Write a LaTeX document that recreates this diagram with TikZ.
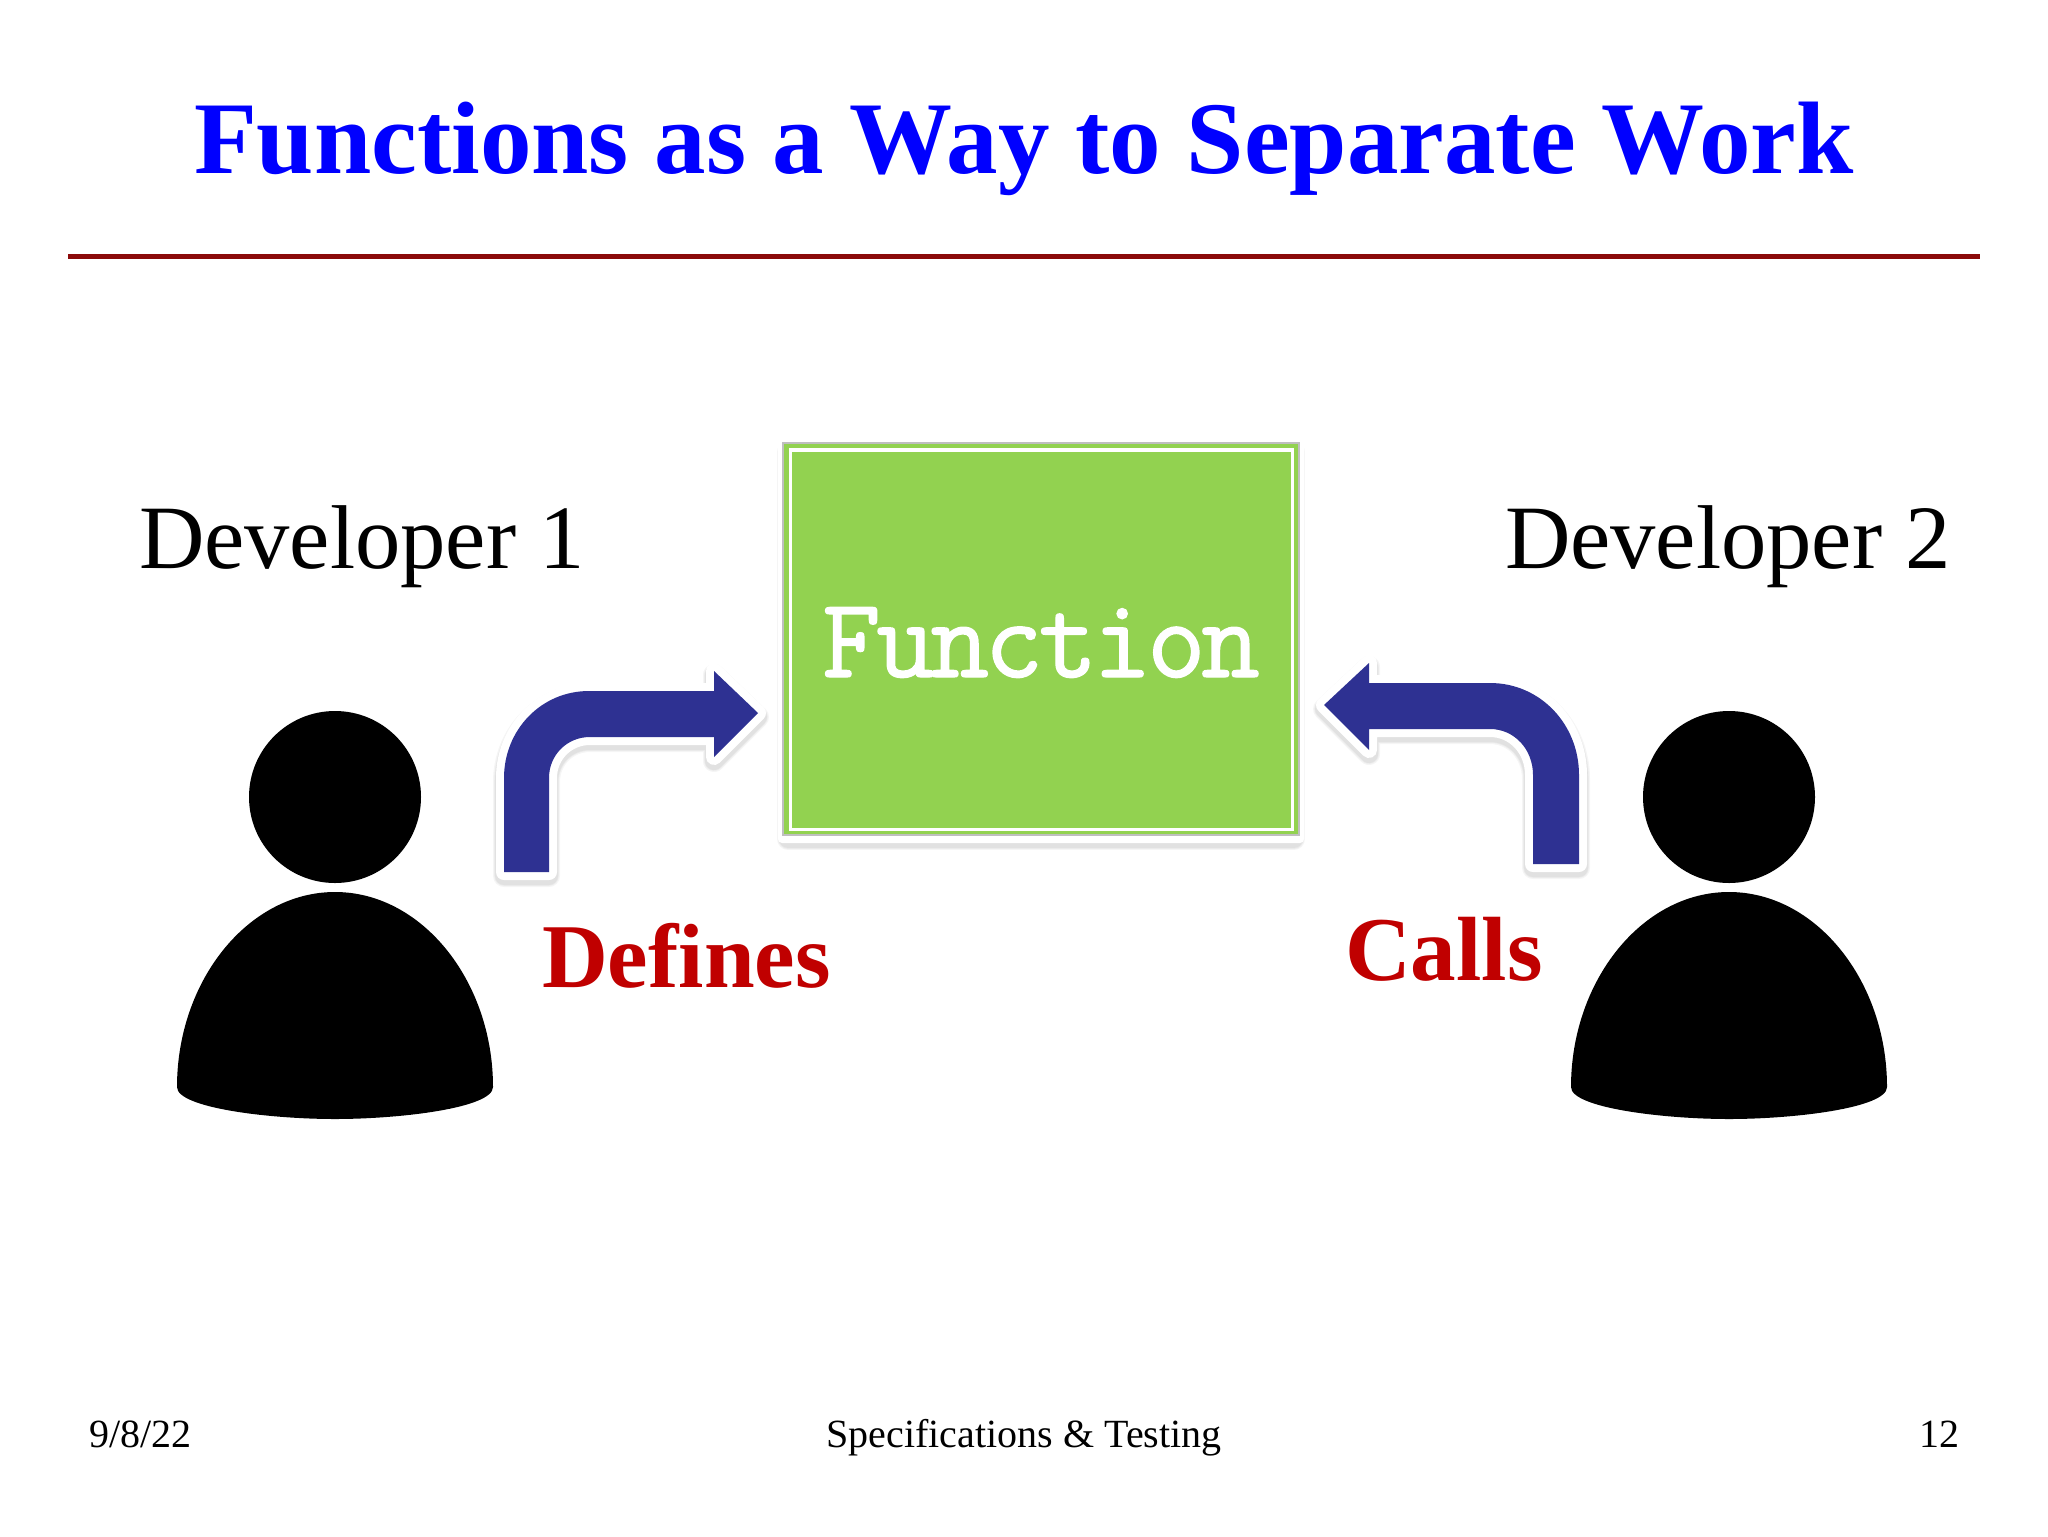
\documentclass[tikz,border=0pt]{standalone}
\usepackage{fontspec}
\setmainfont{Liberation Serif}
\newfontfamily\fnfont[FakeBold=1.2,LetterSpace=-4]{Latin Modern Mono}
\definecolor{titleblue}{HTML}{0000FF}
\definecolor{rulered}{HTML}{8B0A0A}
\definecolor{labelred}{HTML}{C00000}
\definecolor{boxgreen}{HTML}{92D250}
\definecolor{arrowblue}{HTML}{2E3192}
\tikzset{
  lbl/.style={inner sep=0pt,outer sep=0pt,anchor=base west},
  titletext/.style={lbl,text=titleblue,font=\fontsize{51.5}{60}\selectfont\bfseries},
  devtext/.style={lbl,text=black,font=\fontsize{45.3}{54}\selectfont},
  redtext/.style={lbl,text=labelred,font=\fontsize{45.6}{54}\selectfont\bfseries},
  foot/.style={lbl,text=black,font=\fontsize{20}{24}\selectfont},
  blockarrow/.style={fill=arrowblue,draw=none},
  halo/.style={draw=white,fill=white,line width=8pt,line join=round},
}
\newcommand{\softshadow}[2]{%
  \foreach \wd in {11,9.8,9}{
    \draw[draw=black,fill=black,opacity=.04,line width=\wd pt,line join=round,shift={(0,#2)}] #1;
  }%
}
\newcommand{\personfig}[1]{%
  \begin{scope}[shift={(#1,0)}]
    \fill[black] (335,797) circle [radius=43pt];
    \fill[black] (177,1087) .. controls (177,981) and (248,892) .. (335,892)
      .. controls (422,892) and (493,981) .. (493,1087)
      .. controls (493,1108) and (400,1119) .. (335,1119)
      .. controls (270,1119) and (177,1108) .. (177,1087) -- cycle;
  \end{scope}%
}
\newcommand{\arrowone}{(504,872) -- (504,778) .. controls (504,730) and (541,691) .. (589,691) -- (714,691) -- (714,671) -- (758,713) -- (714,757) -- (714,737) -- (590,737) .. controls (567,737) and (549,755) .. (549,778) -- (549,872) -- cycle}
\newcommand{\arrowtwo}{(1579,864) -- (1579,775) .. controls (1579,724) and (1540,683) .. (1490,683) -- (1369,683) -- (1369,663) -- (1324,705) -- (1369,750) -- (1369,729) -- (1490,729) .. controls (1514,729) and (1533,749) .. (1533,775) -- (1533,864) -- cycle}
\begin{document}
\begin{tikzpicture}[x=0.5pt,y=-0.5pt]
\useasboundingbox (0,0) rectangle (2048,1536);
\fill[white] (0,0) rectangle (2048,1536);
% title and rule
\node[titletext] (title) at (194,173) {Functions as a Way to Separate Work};
\coordinate (ruleL) at (68,256);
\coordinate (ruleR) at (1980,256);
\draw[rulered,line width=2.5pt] (ruleL) -- (ruleR);
% developers
\node[devtext] (dev1) at (139,568) {Developer 1};
\node[devtext] (dev2) at (1505,568) {Developer 2};
\personfig{0}
\personfig{1394}
% function box
\softshadow{(788,449) rectangle (1294,836)}{3}
\fill[white,rounded corners=2pt] (778,438) rectangle (1304,843);
\fill[boxgreen,draw=black!25,line width=.6pt] (783,443) rectangle (1299,835);
\draw[white,line width=1.6pt] (790.5,450) rectangle (1292.5,829.5);
\node[lbl,text=white,font=\fnfont\fontsize{57}{64}\selectfont] (fn) at (822,677) {Function};
% arrows
\softshadow{\arrowone}{4}
\path[halo] \arrowone;
\path[blockarrow] \arrowone;
\softshadow{\arrowtwo}{4}
\path[halo] \arrowtwo;
\path[blockarrow] \arrowtwo;
% labels
\node[redtext] (defines) at (542,987) {Defines};
\node[redtext] (calls) at (1345,980) {Calls};
% footer
\node[foot] (date) at (89,1447) {9/8/22};
\node[foot,anchor=base] (course) at (1024,1447) {Specifications \& Testing};
\node[foot,anchor=base east] (page) at (1959,1447) {12};
\end{tikzpicture}
\end{document}
